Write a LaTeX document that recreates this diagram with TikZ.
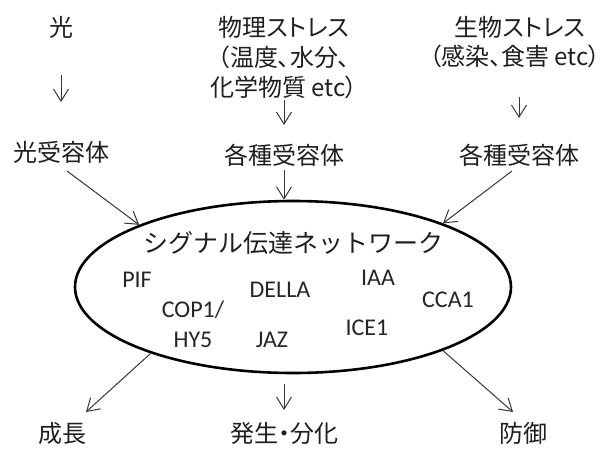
\documentclass[tikz,border=0pt]{standalone}
\usepackage{fontspec}
\newfontfamily\jp{Noto Sans CJK JP}
\newfontfamily\jpp[RawFeature=+palt]{Noto Sans CJK JP}
\newfontfamily\lat{Carlito}
\usetikzlibrary{arrows.meta,shapes.geometric}
\begin{document}
\begin{tikzpicture}[x=1pt,y=-1pt,
  jtxt/.style={font=\jpp\fontsize{24}{28}\selectfont, inner sep=0pt, text=black!88},
  ltxt/.style={font=\lat\fontsize{24}{28}\selectfont, inner sep=0pt, text=black!85},
  arr/.style={draw=black!78, line width=1pt, -{Straight Barb[length=12pt,width=15pt]}},
  netbox/.style={ellipse, draw=black, line width=2.6pt, minimum width=436pt, minimum height=172pt, inner sep=0pt}]
\useasboundingbox (0,0) rectangle (611,450);
\fill[white] (0,0) rectangle (611,450);
% top sources
\node[jtxt] (hikari) at (61,27) {光};
\node[jtxt] (k0) at (61,152) {光受容体};
\node[jtxt] (p1) at (284,27) {物理ストレス};
\node[jtxt] (p2) at (284,57) {（温度、水分、};
\node[jtxt] (p3) at (284,87) {化学物質 etc）};
\node[jtxt] (k1) at (284,155) {各種受容体};
\node[jtxt] (s1) at (520,27) {生物ストレス};
\node[jtxt] (s2) at (515,56) {（感染、食害 etc）};
\node[jtxt] (k2) at (519,155) {各種受容体};
% network
\node[netbox] (net) at (293,287) {};
\node[font=\jp\fontsize{25}{28}\selectfont, inner sep=0pt, text=black!88] (title) at (293,243) {シグナル伝達ネットワーク};
\node[ltxt] (pif) at (137,280) {PIF};
\node[ltxt] (cop) at (193,310) {COP1/};
\node[ltxt] (hy5) at (193,340) {HY5};
\node[ltxt] (della) at (280,290) {DELLA};
\node[ltxt] (jaz) at (272,340) {JAZ};
\node[ltxt] (iaa) at (378,278) {IAA};
\node[ltxt] (cca) at (448,300) {CCA1};
\node[ltxt] (ice) at (367,328) {ICE1};
% outputs
\node[jtxt] (o1) at (62,433) {成長};
\node[jtxt] (o2) at (284,433) {発生・分化};
\node[jtxt] (o3) at (523,433) {防御};
% arrows
\draw[arr, shorten <=48pt, shorten >=50pt] (hikari.center) -- (k0.center);
\draw[arr, shorten <=13pt, shorten >=30pt] (p3.center) -- (k1.center);
\draw[arr, shorten <=41pt, shorten >=37pt] (k2 |- s2) -- (k2.center);
\draw[arr, shorten <=15pt] (k1.center) -- (k1 |- net.north);
\coordinate (l0) at (67,171);
\coordinate (r0) at (512,171);
\draw[arr] (l0) -- (net.158);
\draw[arr] (r0) -- (net.23);
\coordinate (bl) at (86,412);
\coordinate (br) at (513,412);
\draw[arr] (net.205) -- (bl);
\draw[arr] (net.-23) -- (br);
\draw[arr, shorten <=10pt, shorten >=23pt] (o2 |- net.south) -- (o2.center);
\end{tikzpicture}
\end{document}
